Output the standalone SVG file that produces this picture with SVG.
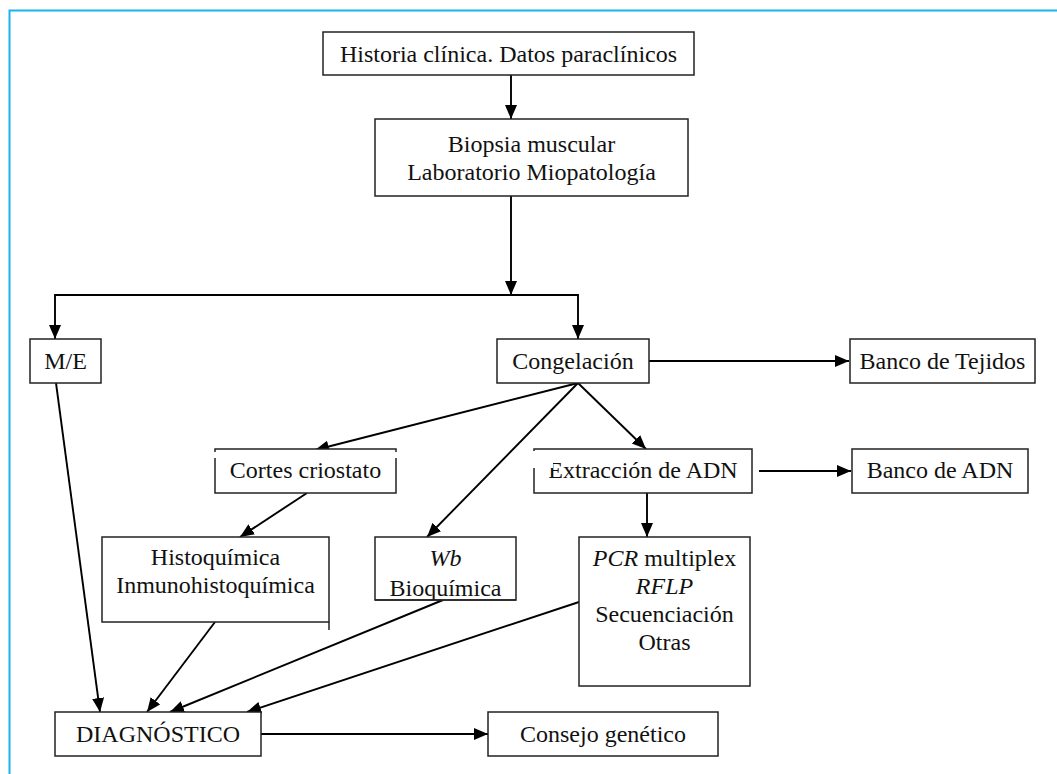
<svg xmlns="http://www.w3.org/2000/svg" width="1057" height="774" viewBox="0 0 1057 774">
<defs>
<style>
.box{fill:#fff;stroke:#222;stroke-width:1.5}
.t{font-family:"Liberation Serif","Times New Roman",serif;font-size:24px;fill:#111;text-anchor:middle}
.i{font-style:italic}
.c{fill:none;stroke:#000;stroke-width:1.9}
.frame{fill:none;stroke:#1BB3EE;stroke-width:2}
</style>
<marker id="ah" markerUnits="userSpaceOnUse" markerWidth="15" markerHeight="13" refX="14" refY="6" orient="auto">
<path d="M0,0 L14,6 L0,12 z" fill="#000"/>
</marker>
<clipPath id="wbclip"><rect x="375" y="537" width="141" height="63"/></clipPath>
</defs>
<rect width="1057" height="774" fill="#fff"/>
<path class="frame" d="M9.5,774 V10.5 H1057"/>

<g id="connectors">
<line class="c" x1="511" y1="75" x2="511" y2="119" marker-end="url(#ah)"/>
<line class="c" x1="511" y1="196" x2="511" y2="295" marker-end="url(#ah)"/>
<line class="c" x1="55" y1="295" x2="578" y2="295"/>
<line class="c" x1="55" y1="294" x2="55" y2="339" marker-end="url(#ah)"/>
<line class="c" x1="578" y1="294" x2="578" y2="339" marker-end="url(#ah)"/>
<line class="c" x1="649" y1="361" x2="849" y2="361" marker-end="url(#ah)"/>
<line class="c" x1="578" y1="383" x2="315" y2="450" marker-end="url(#ah)"/>
<line class="c" x1="578" y1="383" x2="427" y2="537" marker-end="url(#ah)"/>
<line class="c" x1="578" y1="383" x2="646" y2="449" marker-end="url(#ah)"/>
<line class="c" x1="759" y1="471" x2="851" y2="471" marker-end="url(#ah)"/>
<line class="c" x1="647" y1="493" x2="647" y2="537" marker-end="url(#ah)"/>
<line class="c" x1="307" y1="493" x2="240" y2="537" marker-end="url(#ah)"/>
<line class="c" x1="56" y1="383" x2="100" y2="712" marker-end="url(#ah)"/>
<line class="c" x1="215" y1="622" x2="147" y2="712" marker-end="url(#ah)"/>
<line class="c" x1="443" y1="600" x2="170" y2="712" marker-end="url(#ah)"/>
<line class="c" x1="579" y1="602" x2="247" y2="712" marker-end="url(#ah)"/>
<line class="c" x1="261" y1="734" x2="488" y2="734" marker-end="url(#ah)"/>
</g>

<g id="historia">
<rect class="box" x="323" y="32" width="371" height="43"/>
<text class="t" x="508.5" y="62">Historia clínica. Datos paraclínicos</text>
</g>
<g id="biopsia">
<rect class="box" x="375" y="119" width="313" height="77"/>
<text class="t" x="531.5" y="152">Biopsia muscular</text>
<text class="t" x="531.5" y="180">Laboratorio Miopatología</text>
</g>
<g id="me">
<rect class="box" x="30" y="339" width="71" height="44"/>
<text class="t" x="65.5" y="369">M/E</text>
</g>
<g id="congelacion">
<rect class="box" x="497" y="339" width="152" height="44"/>
<text class="t" x="573" y="369">Congelación</text>
</g>
<g id="banco-tejidos">
<rect class="box" x="850" y="339" width="185" height="44"/>
<text class="t" x="942.5" y="369">Banco de Tejidos</text>
</g>
<g id="cortes">
<rect class="box" x="215" y="449" width="181" height="44"/>
<text class="t" x="305.5" y="478">Cortes criostato</text>
<rect x="213" y="452" width="4" height="6" fill="#fff"/>
<rect x="394" y="452" width="4" height="6" fill="#fff"/>
</g>
<g id="extraccion">
<rect class="box" x="534" y="449" width="218" height="44"/>
<text class="t" x="643" y="478">Extracción de ADN</text>
<rect x="532" y="451" width="21" height="17" fill="#fff"/>
</g>
<g id="banco-adn">
<rect class="box" x="852" y="449" width="176" height="44"/>
<text class="t" x="940" y="478">Banco de ADN</text>
</g>
<g id="histoquimica">
<rect class="box" x="102" y="537" width="227" height="85"/>
<line x1="329" y1="622" x2="329" y2="630" stroke="#222" stroke-width="1.5"/>
<text class="t" x="215.5" y="565">Histoquímica</text>
<text class="t" x="215.5" y="593">Inmunohistoquímica</text>
</g>
<g id="wb">
<rect class="box" x="375" y="537" width="141" height="63"/>
<g clip-path="url(#wbclip)">
<text class="t i" x="445.5" y="566">Wb</text>
<text class="t" x="445.5" y="596">Bioquímica</text>
</g>
<line x1="375" y1="600" x2="516" y2="600" stroke="#222" stroke-width="1.5"/>
</g>
<g id="pcr">
<rect class="box" x="579" y="537" width="171" height="149"/>
<text class="t" x="664.5" y="566"><tspan class="i">PCR</tspan> multiplex</text>
<text class="t i" x="664.5" y="594">RFLP</text>
<text class="t" x="664.5" y="622">Secuenciación</text>
<text class="t" x="664.5" y="650">Otras</text>
</g>
<g id="diagnostico">
<rect class="box" x="55" y="712" width="206" height="44"/>
<text class="t" x="158" y="742">DIAGNÓSTICO</text>
</g>
<g id="consejo">
<rect class="box" x="488" y="712" width="230" height="44"/>
<text class="t" x="603" y="742">Consejo genético</text>
</g>
</svg>
